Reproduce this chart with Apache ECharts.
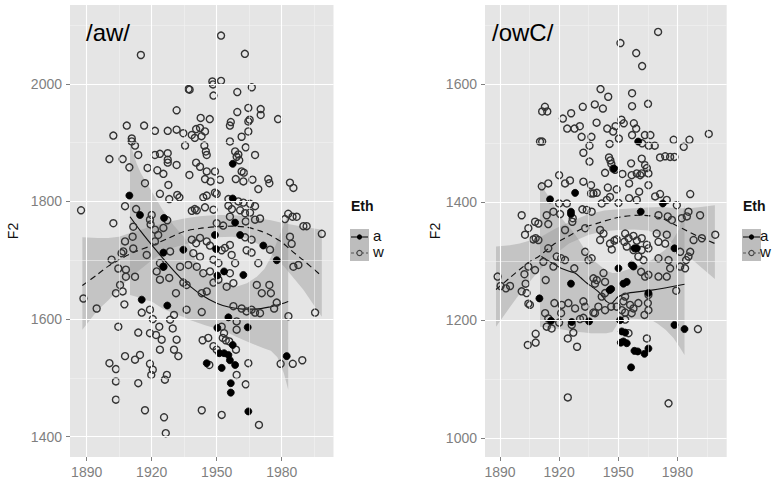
<!DOCTYPE html>
<html><head><meta charset="utf-8">
<script src="https://cdn.jsdelivr.net/npm/echarts@6/dist/echarts.min.js"></script>
<style>html,body{margin:0;padding:0;background:#fff}#c{width:772px;height:484px}</style>
</head><body><div id="c"></div>
<script>
// ---- tick labels ----
const xTicks = [1890, 1920, 1950, 1980];
const xMinor = [1905, 1935, 1965, 1995];
const awYTicks = [1400, 1600, 1800, 2000];
const awYMinor = [1500, 1700, 1900, 2100];
const owcYTicks = [1000, 1200, 1400, 1600];
const owcYMinor = [1100, 1300, 1500, 1700];
const panelTitles = ['/aw/', '/owC/'];
const groups = ['a', 'w'];

// ---- /aw/ points, Eth = w (open circles) ----
const awW = [
[1952,2082],[1915,2049],[1963,2051],[1948,2004],[1952,2005],[1937,1991],[1937.5,1990],[1948.3,1999],[1966.2,1994],[1948.5,1980],
[1959.5,1986],[1931.5,1955],[1964.6,1959],[1970.3,1957],[1970.3,1947],[1965.2,1939],[1959.5,1952],[1978.3,1940],[1942.6,1942],[1946.8,1940],
[1956.5,1935],[1908.5,1929],[1916.5,1929],[1902.3,1912],[1910.8,1907],[1910.8,1902],[1921.5,1920],[1927.4,1920],[1931.5,1922],[1934.6,1916],
[1940.5,1923],[1942.3,1925],[1944.6,1919],[1938.5,1913],[1939.9,1908],[1943,1911],[1956.1,1929],[1964.6,1936],[1964.6,1919],[1961.5,1910],
[1935.4,1895],[1944.3,1895],[1945,1885],[1945.4,1879],[1912.3,1895],[1900.5,1872],[1906.6,1872],[1913.8,1879],[1921.5,1879],[1923.8,1881],
[1927.4,1882],[1927.4,1871],[1927.4,1866],[1931.5,1862],[1918.1,1857],[1922.6,1853],[1925.4,1847],[1909.7,1858],[1940.5,1866],[1942.3,1859],
[1945.4,1851],[1949.2,1851],[1937.4,1845],[1944.6,1838],[1947.2,1834],[1951.5,1837],[1956.1,1902],[1958.5,1885],[1960,1880],[1959.2,1876],
[1960.4,1870],[1963.4,1892],[1967.7,1879],[1961.5,1851],[1962.5,1849],[1958.8,1838],[1962.3,1834],[1966.5,1837],[1973.8,1838],[1974.3,1831],
[1983.8,1832],[1985.4,1823],[1969.2,1821],[1923.8,1813],[1928.1,1804],[1931.8,1811],[1932.8,1807],[1927.7,1828],[1916.9,1831],[1907.7,1792],
[1912.8,1787],[1920,1777],[1919.2,1769],[1919.5,1761],[1925.4,1755],[1927.2,1768],[1902.3,1763],[1887.4,1785],[1921.5,1752],[1923,1743],
[1911.5,1757],[1911.2,1740],[1907.7,1732],[1906.9,1715],[1906.1,1712],[1911.5,1720],[1901.5,1701],[1904.6,1686],[1908.1,1684],[1908.1,1672],
[1912.3,1672],[1905.4,1658],[1903.5,1644],[1906.6,1647],[1888.5,1635],[1894.6,1618],[1907.4,1625],[1915.4,1611],[1919.2,1616],[1904.6,1587],
[1913.8,1577],[1919.2,1576],[1920.5,1600],[1923.5,1587],[1928.5,1599],[1929.7,1584],[1930.3,1607],[1936.1,1616],[1943.1,1612],[1922,1573],
[1924.6,1565],[1931.5,1565],[1938.5,1784],[1939.9,1787],[1940.8,1785],[1943.8,1807],[1945.4,1810],[1949.2,1815],[1950,1813],[1944.6,1790],
[1948.5,1786],[1955.4,1804],[1955.4,1793],[1957,1787],[1960,1800],[1962.3,1798],[1965.4,1796],[1967.7,1792],[1960.8,1785],[1963.1,1780],
[1965.4,1781],[1956.1,1774],[1967.7,1769],[1970,1771],[1981.5,1770],[1983,1779],[1985,1774],[1986.9,1774],[1990,1758],[1991.5,1758],
[1998.5,1745],[1983.8,1740],[1984.6,1728],[1985.4,1689],[1987.7,1692],[1983.1,1605],[1995.4,1611],[1963.1,1739],[1966.1,1735],[1974.6,1718],
[1963.8,1717],[1966.1,1713],[1969.2,1695],[1974.3,1658],[1968.5,1658],[1970.8,1644],[1975,1644],[1977.7,1628],[1976.5,1618],[1967.7,1611],
[1970,1610],[1963.8,1613],[1966.1,1616],[1957.7,1622],[1961.5,1618],[1959.2,1596],[1959.2,1582],[1952.3,1587],[1953.4,1576],[1952.8,1568],
[1954.2,1564],[1955.8,1562],[1948.5,1554],[1950,1548],[1946.1,1568],[1943.5,1564],[1958.9,1548],[1946.6,1522],[1959.2,1505],[1964.6,1525],
[1963.4,1489],[1979.5,1524],[1985.1,1524],[1989.5,1530],[1952.3,1437],[1943.1,1445],[1916.9,1445],[1925.7,1433],[1903.5,1463],[1903.5,1494],
[1900.5,1525],[1903.5,1515],[1907.7,1537],[1913.8,1491],[1912.3,1531],[1914.6,1539],[1919.2,1524],[1920.5,1514],[1919.8,1505],[1923.8,1548],
[1927,1505],[1926.1,1497],[1930.3,1548],[1932.3,1537],[1926.5,1406],[1969.5,1420],[1938.5,1735],[1940.5,1729],[1942.3,1738],[1945.4,1732],
[1946.9,1725],[1952.3,1717],[1953.8,1721],[1956.1,1726],[1948.5,1701],[1950.8,1695],[1956.9,1709],[1958.5,1695],[1939.2,1712],[1942.3,1706],
[1933.1,1689],[1936.9,1692],[1940.8,1689],[1943.8,1678],[1946.9,1681],[1950.8,1667],[1956.1,1678],[1957.7,1661],[1954.6,1655],[1948.5,1662],
[1943.1,1644],[1945.4,1647],[1936.1,1658],[1934.6,1662],[1931.2,1644],[1923.8,1695],[1925.4,1689],[1922.3,1681],[1917.7,1709],[1923.8,1667],
[1928.1,1670],[1921.5,1732],[1928.5,1715],[1950,1763],[1953,1759],[1963.4,1766]
];
// ---- /aw/ points, Eth = a (filled) ----
const awA = [
[1957.4,1864],[1909.7,1810],[1914.6,1777],[1925.7,1772],[1957.4,1805],[1958.5,1764],[1949.2,1743],[1960.8,1743],[1971.5,1725],[1977.7,1700],
[1934.6,1718],[1949.7,1719],[1925.4,1713],[1950.3,1674],[1953.4,1681],[1962.3,1675],[1915.4,1633],[1927.2,1623],[1955.4,1603],[1964.3,1586],
[1950.3,1585],[1957.4,1556],[1951.2,1542],[1953.4,1542],[1955.4,1539],[1956.1,1530],[1958.5,1522],[1945.4,1525],[1952.3,1517],[1956.5,1491],
[1956.5,1475],[1982.3,1537],[1964.6,1443],[1925.4,1689]
];
// ---- /aw/ loess fits and 95% bands: [year, F2] and [year, lower, upper] ----
const awWFit = [[1888,1657],[1895,1676],[1900,1690],[1905,1701],[1912,1714],[1920,1725],[1928,1738],[1935,1749],[1942,1754],[1950,1757],[1957,1758],[1964,1756],[1970,1750],[1975,1742],[1980,1731],[1984,1718],[1990,1700],[1998.5,1673]];
const awWBand = [[1888,1582,1739],[1895,1615,1738],[1900,1632,1738],[1905,1652,1740],[1909,1667,1745],[1915,1685,1752],[1920,1700,1758],[1928.5,1720,1766],[1935,1727,1771],[1942,1733,1775],[1950,1739,1777],[1957,1740,1777],[1964,1737,1775],[1970,1726,1771],[1975,1712,1768],[1981,1690,1763],[1990,1650,1757],[1998.5,1604,1752]];
const awAFit = [[1910,1774],[1915,1749],[1920,1726],[1925,1704],[1928.5,1689],[1933,1671],[1938,1655],[1943,1641],[1950,1627],[1956,1620],[1962,1617],[1968,1617],[1975,1621],[1980,1626],[1983,1630]];
const awABand = [[1910,1641,1899],[1913,1638,1865],[1915,1634,1848],[1920,1630,1817],[1925,1618,1786],[1930,1610,1760],[1935,1603,1739],[1938,1598,1722],[1941,1594,1692],[1945,1589,1677],[1950,1584,1667],[1955,1577,1660],[1959,1570,1655],[1964,1562,1661],[1968.5,1555,1672],[1972,1550,1685],[1975,1546,1705],[1978,1535,1733],[1981,1508,1760],[1983,1480,1779]];

// ---- /owC/ points, Eth = w (open circles) ----
const owcW = [
[1970.2,1689],[1951.1,1670],[1959.1,1653],[1962.1,1631],[1941,1592],[1957,1585],[1944.9,1579],[1965.1,1567],[1938.1,1566],[1942.2,1559],
[1932,1562],[1957,1563],[1912.8,1562],[1911.4,1554],[1914,1554],[1921.9,1542],[1926.1,1551],[1939,1535],[1924.1,1525],[1927.8,1525],
[1930.5,1529],[1936.4,1511],[1935.4,1496],[1931.4,1511],[1944.4,1525],[1948.6,1529],[1947.4,1520],[1951.6,1540],[1952.8,1534],[1957.9,1534],
[1959.1,1525],[1957,1514],[1945.6,1499],[1950.3,1508],[1962.1,1500],[1963.5,1514],[1966.3,1514],[1965.5,1496],[1968.5,1496],[1978.1,1506],
[1983.2,1494],[1986.1,1506],[1995.9,1516],[1910.3,1503],[1911.4,1503],[1932.3,1484],[1935.4,1469],[1945.3,1476],[1946,1471],[1947.5,1457],
[1948.4,1455],[1946.5,1465],[1943.3,1450],[1956.5,1466],[1961.9,1474],[1963.6,1463],[1964.5,1458],[1965.3,1449],[1961.9,1449],[1971.2,1476],
[1973.8,1478],[1976.3,1477],[1978.5,1477],[1952.1,1448],[1956.8,1446],[1959.4,1449],[1961.1,1446],[1920,1446],[1923,1432],[1925.5,1437],
[1911.2,1427],[1914.5,1432],[1932.3,1435],[1936.2,1429],[1937.4,1415],[1939.1,1416],[1936.2,1415],[1944.7,1425],[1945.8,1409],[1949.2,1422],
[1950.1,1399],[1955.5,1432],[1955.5,1407],[1959.4,1404],[1960.6,1418],[1965.3,1429],[1968.7,1410],[1971.2,1414],[1974.6,1404],[1979.7,1395],
[1986.5,1414],[1920,1398],[1923.9,1398],[1926.7,1367],[1917.1,1384],[1920.5,1380],[1931.8,1388],[1934,1387],[1936.5,1384],[1941.6,1398],
[1944.2,1404],[1933.2,1356],[1940.8,1353],[1942.5,1347],[1940.8,1336],[1945.8,1330],[1948,1335],[1946.7,1320],[1949.2,1337],[1953.5,1347],
[1955.2,1339],[1957.7,1343],[1959.4,1335],[1953.1,1333],[1954.3,1325],[1957.7,1319],[1961.9,1339],[1964.5,1328],[1965.3,1322],[1961.9,1319],
[1960.2,1308],[1962.8,1302],[1961.6,1282],[1963.6,1274],[1965.3,1277],[1969.5,1347],[1970.4,1333],[1974.6,1345],[1973.8,1330],[1981.4,1316],
[1984.4,1302],[1985.6,1308],[1986.5,1316],[1983.9,1288],[1981.4,1291],[1988.2,1336],[1992.4,1339],[1999.2,1345],[1991.5,1378],[1985.6,1384],
[1984.8,1376],[1970.4,1378],[1975.1,1376],[1977.2,1370],[1982.2,1373],[1970.4,1305],[1975.5,1302],[1976.3,1288],[1970.4,1274],[1974.6,1274],
[1979.4,1250],[1965.3,1243],[1965,1229],[1965.3,1217],[1963.3,1209],[1960.2,1229],[1957.7,1220],[1956,1226],[1956.8,1212],[1953.5,1240],
[1952.6,1232],[1955.2,1178],[1953.5,1201],[1964.5,1169],[1990.4,1185],[1975.5,1059],[1924.4,1069],[1904.1,1158],[1908.1,1162],[1908.1,1177],
[1913.7,1189],[1916.2,1186],[1920,1196],[1926.4,1192],[1927.2,1179],[1924.4,1169],[1929.1,1155],[1930.6,1202],[1932.3,1204],[1937.4,1213],
[1912.9,1212],[1914.5,1203],[1904.4,1228],[1905.2,1226],[1901,1249],[1903.5,1246],[1895.1,1258],[1888.8,1274],[1902.4,1278],[1904.4,1291],
[1907.8,1285],[1913.2,1268],[1917.1,1291],[1917.6,1229],[1921.3,1226],[1921,1212],[1924.7,1229],[1928.1,1220],[1932.3,1232],[1908.1,1339],
[1909.5,1336],[1906.9,1337],[1904.4,1356],[1902.7,1345],[1901,1378],[1907.8,1367],[1909.5,1364],[1913.7,1378],[1914.5,1363],[1923,1353],
[1926.9,1373],[1918.8,1308],[1921,1305],[1923,1302],[1927.7,1288],[1914.5,1322],[1912,1299],[1903,1262],[1933.2,1316],[1934.9,1302],
[1936.5,1305],[1937.4,1271],[1939.1,1268],[1938.2,1262],[1942.5,1280],[1943.3,1265],[1943.3,1246],[1941.6,1240],[1933.2,1223],[1938.2,1212],
[1939.9,1223],[1943.3,1217],[1946.4,1223],[1949.2,1223],[1951.8,1217],[1953.5,1213],[1890.3,1258],[1893,1254]
];
// ---- /owC/ points, Eth = a (filled) ----
const owcA = [
[1960.1,1503],[1915.4,1405],[1926,1384],[1926,1380],[1928.1,1416],[1947.8,1457],[1961.4,1384],[1972.6,1398],[1978.5,1322],[1958.2,1322],
[1959.4,1322],[1956.8,1294],[1957.7,1291],[1950.1,1288],[1946.4,1253],[1952.6,1262],[1954.3,1265],[1965.3,1246],[1910,1237],[1915.9,1199],
[1926.4,1197],[1935.2,1198],[1978.5,1192],[1983.6,1185],[1950.9,1200],[1951.8,1181],[1953.5,1179],[1952.6,1164],[1954.3,1161],[1951.3,1162],
[1965.3,1152],[1958.2,1148],[1959.9,1147],[1963.3,1143],[1956.5,1120],[1926,1262],[1945.6,1251]
];
// ---- /owC/ loess fits and bands ----
const owcWFit = [[1888,1252],[1895,1272],[1900,1286],[1905,1299],[1910,1309],[1917,1328],[1925,1343],[1932,1356],[1940,1365],[1947,1372],[1953,1376],[1960,1378],[1966,1377],[1972,1373],[1978,1363],[1984,1353],[1990,1343],[1999,1330]];
const owcWBand = [[1888,1189,1325],[1895,1222,1327],[1900,1245,1330],[1910,1285,1340],[1918,1312,1355],[1925,1330,1366],[1935,1345,1380],[1943,1351,1386],[1950,1353,1388],[1958,1354,1390],[1965,1352,1391],[1972,1343,1392],[1980,1325,1390],[1986,1307,1390],[1992,1290,1392],[1999,1270,1395]];
const owcAFit = [[1911,1308],[1916,1298],[1921,1288],[1925,1283],[1928,1280],[1931,1272],[1934,1263],[1937,1256],[1940,1248],[1942,1240],[1944,1232],[1946.4,1228],[1948,1233],[1950,1240],[1955,1246],[1967,1251],[1983.6,1261]];
const owcABand = [[1910.3,1189,1438],[1913,1188,1418],[1916,1187,1404],[1920,1185,1378],[1924,1183,1362],[1926.4,1181,1353],[1930,1180,1336],[1933,1179,1320],[1936,1178,1308],[1938,1178,1300],[1941,1178,1292],[1944,1178,1284],[1947,1180,1280],[1949,1190,1280],[1950.5,1203,1281],[1954,1203,1285],[1960,1202,1292],[1964,1201,1297],[1967,1200,1302],[1970,1194,1310],[1974,1184,1320],[1978,1170,1338],[1981,1155,1355],[1983.6,1141,1395]];

// ---------------------------------------------------------------
const BG = '#e5e5e5', BAND = 'rgba(150,150,150,0.42)', LABEL = '#7f7f7f';
const FONT = 'Liberation Sans, Arial, Helvetica, sans-serif';

function gridLines(idx, majX, minX, majY, minY) {
  const maj = {color: '#ffffff', width: 1.1, type: 'solid'};
  const mnr = {color: '#f2f2f2', width: 0.6, type: 'solid'};
  const d = [];
  minX.forEach(v => d.push({xAxis: v, lineStyle: mnr}));
  minY.forEach(v => d.push({yAxis: v, lineStyle: mnr}));
  majX.forEach(v => d.push({xAxis: v, lineStyle: maj}));
  majY.forEach(v => d.push({yAxis: v, lineStyle: maj}));
  return {type: 'scatter', xAxisIndex: idx, yAxisIndex: idx, data: [], z: 1, silent: true,
    markLine: {silent: true, symbol: ['none', 'none'], label: {show: false}, animation: false, data: d}};
}
function band(idx, rows) {
  return {type: 'custom', xAxisIndex: idx, yAxisIndex: idx, z: 2, silent: true, data: rows,
    encode: {x: 0, y: [1, 2]},
    renderItem: function (params, api) {
      if (params.dataIndex !== 0) return null;
      const p = [];
      rows.forEach(r => p.push(api.coord([r[0], r[2]])));
      for (let i = rows.length - 1; i >= 0; i--) p.push(api.coord([rows[i][0], rows[i][1]]));
      return {type: 'polygon', shape: {points: p}, style: {fill: BAND}};
    }};
}
function fit(idx, rows, dashed) {
  return {type: 'line', xAxisIndex: idx, yAxisIndex: idx, z: 3, silent: true, data: rows,
    showSymbol: false, smooth: 0.3,
    lineStyle: {color: '#111', width: 1.15, type: dashed ? [6, 4] : 'solid'}};
}
function pts(idx, rows, filled) {
  return {type: 'scatter', xAxisIndex: idx, yAxisIndex: idx, z: 4, silent: true, data: rows,
    symbol: 'circle', symbolSize: 7,
    itemStyle: filled ? {color: '#000', borderColor: '#000', borderWidth: 0.8, opacity: 1}
                      : {color: 'rgba(0,0,0,0)', borderColor: '#333', borderWidth: 1.4, opacity: 1}};
}
const plain = v => String(v);
function xAxis(idx, min, max) {
  return {type: 'value', gridIndex: idx, min: min, max: max,
    axisLine: {show: false}, splitLine: {show: false},
    axisTick: {show: true, length: 4, lineStyle: {color: LABEL, width: 1}, customValues: xTicks},
    axisLabel: {customValues: xTicks, formatter: plain, color: LABEL, fontSize: 14, fontFamily: FONT, margin: 8}};
}
function yAxis(idx, min, max, ticks, gap) {
  return {type: 'value', gridIndex: idx, min: min, max: max, name: 'F2', nameLocation: 'middle', nameGap: gap,
    nameTextStyle: {color: '#111', fontSize: 14, fontFamily: FONT},
    axisLine: {show: false}, splitLine: {show: false},
    axisTick: {show: true, length: 4, lineStyle: {color: LABEL, width: 1}, customValues: ticks},
    axisLabel: {customValues: ticks, formatter: plain, color: LABEL, fontSize: 14, fontFamily: FONT, margin: 8}};
}
function legend(x, y, tx) {
  const kh = 16;
  return [
    {type: 'text', left: x + 1, top: y - 30, style: {text: 'Eth', font: 'bold 14px ' + FONT, fill: '#111'}},
    {type: 'rect', shape: {x: x, y: y, width: 19, height: kh * 2}, style: {fill: '#bdbdbd'}},
    {type: 'line', shape: {x1: x + 1, y1: y + kh / 2, x2: x + 18, y2: y + kh / 2}, style: {stroke: '#111', lineWidth: 1.1}},
    {type: 'circle', shape: {cx: x + 9.5, cy: y + kh / 2, r: 2.6}, style: {fill: '#000'}},
    {type: 'line', shape: {x1: x + 1, y1: y + kh * 1.5, x2: x + 18, y2: y + kh * 1.5}, style: {stroke: '#555', lineWidth: 1.1, lineDash: [3, 2]}},
    {type: 'circle', shape: {cx: x + 9.5, cy: y + kh * 1.5, r: 2.6}, style: {fill: '#bdbdbd', stroke: '#444', lineWidth: 1.1}},
    {type: 'text', left: tx, top: y + kh / 2 - 9, style: {text: groups[0], font: '15px ' + FONT, fill: '#111'}},
    {type: 'text', left: tx, top: y + kh * 1.5 - 9, style: {text: groups[1], font: '15px ' + FONT, fill: '#111'}}
  ];
}

const chart = echarts.init(document.getElementById('c'), null, {renderer: 'svg'});
chart.setOption({
  animation: false,
  backgroundColor: '#ffffff',
  grid: [
    {left: 70, right: 772 - 333.5, top: 5, bottom: 27, show: true, backgroundColor: BG, borderWidth: 0},
    {left: 485, right: 772 - 726.7, top: 5, bottom: 27, show: true, backgroundColor: BG, borderWidth: 0}
  ],
  title: [
    {text: panelTitles[0], left: 81, top: 15, textStyle: {fontSize: 24, fontWeight: 'normal', color: '#000', fontFamily: FONT}},
    {text: panelTitles[1], left: 487, top: 15, textStyle: {fontSize: 24, fontWeight: 'normal', color: '#000', fontFamily: FONT}}
  ],
  xAxis: [xAxis(0, 1882.3, 2003.9), xAxis(1, 1882.4, 2005)],
  yAxis: [yAxis(0, 1365.5, 2134, awYTicks, 50), yAxis(1, 968, 1734.6, owcYTicks, 39)],
  series: [
    gridLines(0, xTicks, xMinor, awYTicks, awYMinor),
    gridLines(1, xTicks, xMinor, owcYTicks, owcYMinor),
    band(0, awWBand), band(0, awABand), band(1, owcWBand), band(1, owcABand),
    fit(0, awWFit, true), fit(0, awAFit, false), fit(1, owcWFit, true), fit(1, owcAFit, false),
    pts(0, awW, false), pts(0, awA, true), pts(1, owcW, false), pts(1, owcA, true)
  ],
  graphic: legend(350, 229, 373).concat(legend(742, 229, 760))
});
</script></body></html>
